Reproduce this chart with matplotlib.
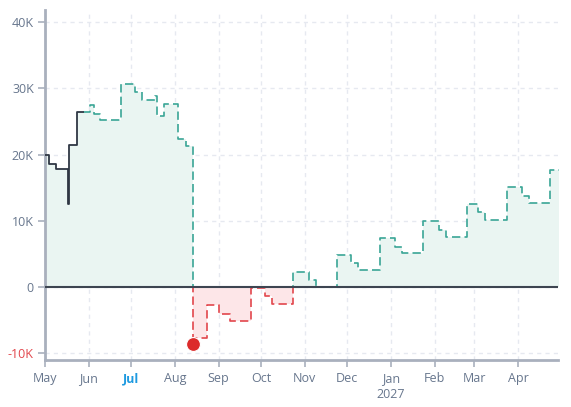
import numpy as np
import pandas as pd
import matplotlib
matplotlib.use("Agg")
import matplotlib.pyplot as plt
import matplotlib.dates as mdates
from matplotlib.patches import Rectangle
from matplotlib.ticker import FuncFormatter

plt.rcParams["font.family"] = ["Open Sans", "DejaVu Sans"]

# actual balance (solid)
actual_dates = ["2026-05-01", "2026-05-04", "2026-05-09", "2026-05-17",
                "2026-05-18", "2026-05-24", "2026-05-28"]
actual_values = [20000, 18600, 17800, 12600, 21400, 26500, 26500]

# forecast balance (dashed)
forecast_dates = ["2026-05-28", "2026-06-02", "2026-06-05", "2026-06-09", "2026-06-24",
                  "2026-07-04", "2026-07-09", "2026-07-18", "2026-07-19", "2026-07-24",
                  "2026-08-03", "2026-08-09", "2026-08-14", "2026-08-24", "2026-09-01",
                  "2026-09-09", "2026-09-24", "2026-10-04", "2026-10-09", "2026-10-24",
                  "2026-11-04", "2026-11-09", "2026-11-24", "2026-12-04", "2026-12-09",
                  "2026-12-24", "2027-01-04", "2027-01-09", "2027-01-24", "2027-02-04",
                  "2027-02-09", "2027-02-24", "2027-03-04", "2027-03-09", "2027-03-24",
                  "2027-04-04", "2027-04-09", "2027-04-24", "2027-04-30"]
forecast_values = [26500, 27500, 26200, 25200, 30700,
                   29400, 28300, 28800, 25800, 27700,
                   22400, 21300, -7750, -2700, -4000,
                   -5100, -200, -1400, -2500, 2300,
                   1060, 0, 4900, 3600, 2600,
                   7450, 6100, 5100, 10000, 8600,
                   7600, 12600, 11300, 10100, 15150,
                   13750, 12700, 17700, 17700]

low_date = "2026-08-14"
low_value = -8600

y_ticks = [-10000, 0, 10000, 20000, 30000, 40000]
year_label = "2027"

TEAL = "#3aa596"
RED = "#e2474d"
DARK = "#2f3744"
LABEL = "#67768d"
GRID = "#e6e9f0"
SPINE = "#a9b0bd"

ad = pd.to_datetime(actual_dates)
av = np.array(actual_values, dtype=float)
fd = pd.to_datetime(forecast_dates)
fv = np.array(forecast_values, dtype=float)

fig = plt.figure(figsize=(5.71, 4.07), dpi=100)
ax = fig.add_axes([0.0788, 0.1155, 0.899, 0.86])

x0 = mdates.date2num(pd.Timestamp("2026-05-01"))
x1 = mdates.date2num(pd.Timestamp("2027-04-29 14:00"))
ax.set_xlim(x0, x1)
ax.set_ylim(-11000, 41850)

# fills
all_d = ad[:-1].append(fd)
all_v = np.concatenate([av[:-1], fv])
ax.fill_between(all_d, np.maximum(all_v, 0), 0, step="post", color="#eaf5f2", lw=0, zorder=1)
ax.fill_between(all_d, np.minimum(all_v, 0), 0, step="post", color="#fde6e8", lw=0, zorder=1)

# grid
ax.grid(True, color=GRID, lw=1, ls=(0, (3, 3)), zorder=0)
ax.set_axisbelow(True)

# forecast: teal above zero, red below zero
big = 1e6
for col, (yb, h) in [(TEAL, (0, big)), (RED, (-big, big))]:
    ln, = ax.plot(fd, fv, drawstyle="steps-post", color=col, lw=1.2,
                  ls=(0, (5, 2.5)), zorder=3)
    clip = Rectangle((x0 - 1000, yb), 5000, h, transform=ax.transData)
    ln.set_clip_path(clip)

# zero line
ax.axhline(0, color="#3d4551", lw=1.5, zorder=4)

# actual
ax.plot(ad, av, drawstyle="steps-post", color=DARK, lw=1.3, zorder=5)

# lowest point
ax.plot(pd.to_datetime(low_date), low_value, "o", color="#dc2b2b", ms=10, mec="white",
        mew=0.8, zorder=6, clip_on=False)

# axes styling
for s in ["top", "right"]:
    ax.spines[s].set_visible(False)
for s in ["left", "bottom"]:
    ax.spines[s].set_color(SPINE)
    ax.spines[s].set_linewidth(2)

ax.set_yticks(y_ticks)
ax.yaxis.set_major_formatter(FuncFormatter(lambda v, p: "0" if v == 0 else f"{int(v / 1000)}K"))
ax.tick_params(axis="y", length=5, width=1.2, color=SPINE, labelcolor=LABEL, labelsize=9, pad=3)
for t in ax.get_yticklabels():
    if t.get_text().startswith("-") or t.get_text().startswith("\u2212"):
        t.set_color(RED)

months = pd.date_range("2026-05-01", "2027-04-01", freq="MS")
ax.set_xticks(months)
ax.set_xticklabels([m.strftime("%b") for m in months])
ax.tick_params(axis="x", length=5, width=1.2, color=SPINE, labelcolor=LABEL, labelsize=9, pad=4)
for m, t in zip(months, ax.get_xticklabels()):
    if m.month == 7:
        t.set_color("#1e9ae0")
        t.set_fontweight("bold")

# year under January
jan = months[months.month == 1][0]
ax.annotate(year_label, xy=(mdates.date2num(jan), 0), xycoords=("data", "axes fraction"),
            xytext=(0, -35), textcoords="offset pixels", ha="center", va="center",
            fontsize=9, color=LABEL)

fig.savefig("out.png", dpi=100)
